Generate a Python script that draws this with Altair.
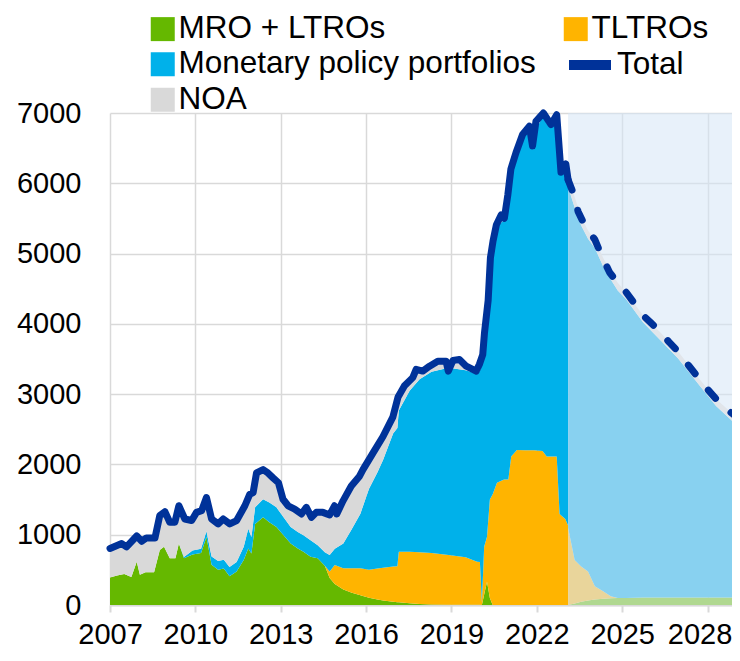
import altair as alt
import pandas as pd

# ---------------- data (EUR bn) ----------------
series_names = ["MRO + LTROs", "TLTROs", "Monetary policy portfolios", "NOA"]

hist_t = [2007.0, 2007.25, 2007.5, 2007.75, 2007.94, 2008.05, 2008.25, 2008.55, 2008.75, 2008.9,
          2009.1, 2009.3, 2009.42, 2009.6, 2009.9, 2010.2, 2010.39, 2010.57, 2010.8, 2011.0,
          2011.2, 2011.45, 2011.7, 2011.86, 2011.97, 2012.1, 2012.38, 2012.6, 2012.85, 2013.1,
          2013.35, 2013.6, 2013.8, 2014.05, 2014.3, 2014.55, 2014.72, 2014.9, 2015.2, 2015.5,
          2015.8, 2016.1, 2016.4, 2016.6, 2016.95, 2017.1, 2017.15, 2017.53, 2017.88, 2018.3,
          2018.9, 2019.5, 2019.9, 2020.0, 2020.07, 2020.15, 2020.25, 2020.35, 2020.45, 2020.6,
          2020.85, 2021.0, 2021.1, 2021.3, 2021.6, 2021.9, 2022.2, 2022.35, 2022.7, 2022.8,
          2023.0, 2023.1]
hist_mro = [393, 420, 440, 400, 617, 430, 467, 467, 781, 827,
            664, 664, 874, 664, 720, 740, 968, 571, 500, 520,
            410, 477, 640, 804, 734, 1154, 1248, 1178, 1108, 991,
            874, 804, 757, 687, 664, 560, 383, 300, 220, 173,
            140, 103, 80, 65, 45, 40, 38, 25, 15, 8,
            5, 3, 2, 2, 0, 150, 330, 100, 0, 0,
            0, 0, 0, 0, 0, 0, 0, 0, 0, 0,
            0, 0]
hist_tltro = [0, 0, 0, 0, 0, 0, 0, 0, 0, 0,
              0, 0, 0, 0, 0, 0, 0, 0, 0, 0,
              0, 0, 0, 0, 0, 0, 0, 0, 0, 0,
              0, 0, 0, 0, 0, 0, 94, 270, 304, 351,
              384, 397, 440, 465, 502, 510, 719, 732, 735, 732,
              706, 677, 615, 610, 40, 680, 640, 1400, 1575, 1739,
              1785, 1785, 2113, 2206, 2200, 2200, 2190, 2113, 2113, 1295,
              1224, 1130]
hist_mpp = [0, 0, 0, 0, 0, 0, 0, 0, 0, 0,
            0, 0, 0, 20, 55, 60, 80, 120, 125, 125,
            130, 135, 187, 280, 234, 235, 257, 281, 281, 257,
            234, 234, 234, 234, 187, 190, 234, 230, 350, 556,
            776, 1150, 1370, 1536, 1893, 1970, 2010, 2291, 2462, 2580,
            2665, 2660, 2673, 2720, 3400, 2920, 3230, 3250, 3525, 3641,
            3695, 4015, 4037, 4194, 4520, 4500, 4760, 4737, 4827, 5005,
            4926, 4870]
hist_noa = [411, 430, 420, 480, 365, 490, 483, 488, 491, 501,
            514, 514, 538, 540, 427, 542, 481, 533, 529, 579,
            614, 590, 585, 491, 631, 490, 421, 411, 371, 257,
            292, 312, 304, 329, 467, 568, 570, 550, 608, 612,
            533, 410, 380, 328, 240, 280, 243, 152, 118, 100,
            64, 80, 60, 88, 100, 50, 50, 50, 50, 30,
            20, 30, 50, 40, 30, 0, 40, 30, 35, 50,
            100, 50]

proj_t = [2023.1, 2023.33, 2023.56, 2023.8, 2024.04, 2024.33, 2024.6, 2024.85, 2025.14, 2025.73,
          2026.37, 2026.96, 2027.72, 2028.3, 2028.95, 2029.08]
proj_mro = [0, 20, 45, 65, 80, 90, 95, 100, 100, 105, 105, 105, 105, 105, 105, 105]
proj_tltro = [1100, 621, 502, 412, 186, 106, 31, 0, 0, 0, 0, 0, 0, 0, 0, 0]
proj_mpp = [4850, 5015, 4853, 4733, 4813, 4624, 4504, 4370, 4250, 3918,
            3652, 3404, 3017, 2726, 2482, 2465]
proj_noa = [100, 150, 120, 120, 120, 120, 110, 110, 100, 100, 110, 100, 90, 100, 110, 110]

total_hist_t = [2007.0, 2007.41, 2007.58, 2007.94, 2008.11, 2008.28, 2008.58, 2008.75, 2008.93, 2009.1,
                2009.28, 2009.42, 2009.63, 2009.87, 2010.04, 2010.22, 2010.39, 2010.57, 2010.8, 2010.98,
                2011.21, 2011.45, 2011.74, 2011.91, 2012.03, 2012.15, 2012.38, 2012.55, 2012.73, 2012.92,
                2013.08, 2013.26, 2013.49, 2013.73, 2013.9, 2014.08, 2014.25, 2014.48, 2014.72, 2014.89,
                2014.97, 2015.19, 2015.48, 2015.77, 2015.89, 2016.24, 2016.59, 2016.94, 2017.12, 2017.35,
                2017.64, 2017.76, 2017.99, 2018.23, 2018.52, 2018.81, 2018.89, 2019.05, 2019.28, 2019.52,
                2019.87, 2019.98, 2020.1, 2020.16, 2020.29, 2020.37, 2020.46, 2020.58, 2020.75, 2020.86,
                2020.98, 2021.09, 2021.27, 2021.5, 2021.74, 2021.85, 2021.97, 2022.23, 2022.5, 2022.7,
                2022.85, 2023.02, 2023.1]
total_hist_v = [804, 874, 827, 982, 907, 954, 954, 1272, 1328, 1178,
                1178, 1412, 1224, 1202, 1318, 1342, 1529, 1224, 1154, 1224,
                1154, 1202, 1412, 1575, 1599, 1879, 1926, 1879, 1809, 1739,
                1505, 1412, 1365, 1295, 1389, 1248, 1318, 1318, 1281, 1412,
                1295, 1482, 1692, 1833, 1926, 2160, 2394, 2674, 2955, 3118,
                3235, 3352, 3328, 3398, 3468, 3468, 3328, 3478, 3492, 3398,
                3328, 3422, 3562, 3867, 4334, 4941, 5175, 5410, 5550, 5503,
                5830, 6204, 6438, 6695, 6812, 6532, 6882, 7000, 6835, 6975,
                6157, 6274, 6050]
total_proj_t = [2023.1, 2023.33, 2023.45, 2023.62, 2023.8, 2024.04, 2024.3, 2024.56, 2024.85, 2025.14,
                2025.45, 2025.73, 2026.05, 2026.37, 2026.65, 2026.96, 2027.35, 2027.72, 2028.0, 2028.3,
                2028.6, 2028.95, 2029.08]
total_proj_v = [6050, 5806, 5600, 5456, 5330, 5199, 4950, 4731, 4580, 4450,
                4280, 4123, 4000, 3867, 3740, 3609, 3400, 3212, 3070, 2931,
                2810, 2697, 2680]

x_ticks = [2007, 2010, 2013, 2016, 2019, 2022, 2025, 2028]
y_ticks = [0, 1000, 2000, 3000, 4000, 5000, 6000, 7000]
x_domain = [2007, 2028.86]
y_domain = [0, 7000]
proj_start = 2023.1

# ---------------- styles ----------------
FONT = "Liberation Sans"
# legend entries fill column by column: left column, then right column
legend_domain = ["MRO + LTROs", "Monetary policy portfolios", "NOA", "TLTROs", " "]
legend_colors = ["#65b800", "#00b1ea", "#d9d9d9", "#ffb400", "#ffffff"]
proj_colors = ["#b0d890", "#e9d59b", "#88d1f0", "#e1e5ea"]
total_color = "#003299"


def long_frame(t, cols):
    rows = []
    for order, (name, vals) in enumerate(zip(series_names, cols)):
        for ti, v in zip(t, vals):
            rows.append({"t": ti, "value": v, "series": name, "order": order})
    return pd.DataFrame(rows)


hist_df = long_frame(hist_t, [hist_mro, hist_tltro, hist_mpp, hist_noa])
proj_df = long_frame(proj_t, [proj_mro, proj_tltro, proj_mpp, proj_noa])
tot_hist_df = pd.DataFrame({"t": total_hist_t, "value": total_hist_v, "name": "Total"})
tot_proj_df = pd.DataFrame({"t": total_proj_t, "value": total_proj_v, "name": "Total"})
bg_df = pd.DataFrame({"t": [proj_start], "t2": [x_domain[1]], "value": [y_domain[1]], "value2": [y_domain[0]]})

x_axis = alt.Axis(values=x_ticks, format="d", title=None, grid=True, tickSize=7, tickWidth=2,
                  labelPadding=8, domainWidth=2, labelFlush=False, labelOverlap=False,
                  labelOffset={"condition": {"test": "datum.value === 2028", "value": -8}, "value": 0})
y_axis = alt.Axis(values=y_ticks, format="d", title=None, grid=True, ticks=False, tickSize=0,
                  domain=False, labelPadding=29, labelOverlap=False)
x_scale = alt.Scale(domain=x_domain, nice=False, zero=False)
y_scale = alt.Scale(domain=y_domain, nice=False)


def X():
    return alt.X("t:Q", scale=x_scale, axis=x_axis)


def Y(stack=None):
    if stack:
        return alt.Y("value:Q", scale=y_scale, axis=y_axis, stack=stack)
    return alt.Y("value:Q", scale=y_scale, axis=y_axis)


bg = alt.Chart(bg_df).mark_rect(color="#d6e6f5", opacity=0.55, clip=True).encode(
    x=X(), x2="t2:Q", y=Y(), y2="value2:Q")

hist_area = alt.Chart(hist_df).mark_area(opacity=1, interpolate="linear", clip=True).encode(
    x=X(), y=Y("zero"),
    color=alt.Color("series:N",
                    scale=alt.Scale(domain=legend_domain, range=legend_colors),
                    legend=alt.Legend(title=None, orient="none", legendX=37, legendY=-100,
                                      columns=2, symbolType="square", symbolSize=576,
                                      symbolStrokeWidth=0, labelFontSize=31.5, labelFont=FONT,
                                      labelColor="black", labelLimit=700, labelOffset=0,
                                      columnPadding=24, rowPadding=2.5, padding=0)),
    order=alt.Order("order:Q"))

proj_area = alt.Chart(proj_df).mark_area(opacity=1, interpolate="linear", clip=True).encode(
    x=X(), y=Y("zero"),
    fill=alt.Fill("series:N", scale=alt.Scale(domain=series_names, range=proj_colors), legend=None),
    order=alt.Order("order:Q"))

tot_hist = alt.Chart(tot_hist_df).mark_line(strokeWidth=7, strokeCap="round", strokeJoin="round").encode(
    x=X(), y=Y(),
    stroke=alt.Stroke("name:N", scale=alt.Scale(domain=["Total"], range=[total_color]),
                      legend=alt.Legend(title=None, orient="none", legendX=454, legendY=-74,
                                        symbolType="stroke", symbolSize=1764, symbolStrokeWidth=10,
                                        labelFontSize=31.5, labelFont=FONT, labelColor="black",
                                        labelOffset=1, labelLimit=300, padding=0)))

tot_proj = alt.Chart(tot_proj_df).mark_line(strokeWidth=7, strokeCap="round", strokeJoin="round",
                                            strokeDash=[11, 21], stroke=total_color, clip=True).encode(
    x=X(), y=Y())

chart = alt.layer(bg, hist_area, proj_area, tot_hist, tot_proj).properties(
    width=622, height=492,
    autosize=alt.AutoSizeParams(type="none"),
    padding={"left": 102, "top": 105, "right": 0, "bottom": 44},
).configure_view(strokeWidth=0).configure_axis(
    labelFont=FONT, labelFontSize=29, labelColor="black",
    gridColor="#d9d9d9", gridWidth=1.5, domainColor="#d9d9d9", tickColor="#d9d9d9",
)

chart.save("out.html", embed_options={"renderer": "svg", "actions": False})
